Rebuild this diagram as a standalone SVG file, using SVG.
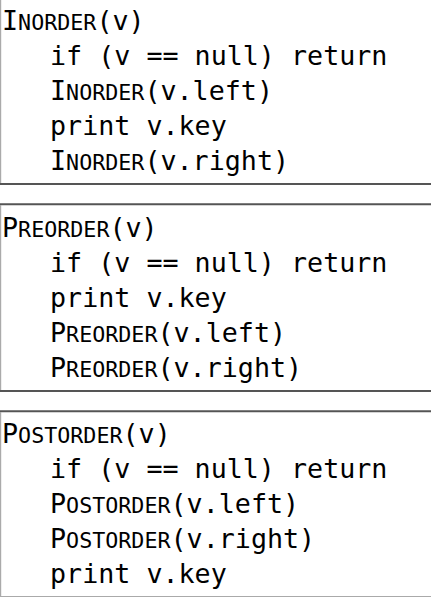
<svg xmlns="http://www.w3.org/2000/svg" width="431" height="597" viewBox="0 0 431 597">
<style>
.code{font-family:"DejaVu Sans Mono","Liberation Mono",monospace;font-size:26.7px;fill:#000}
.sc{font-size:21.7px}
.hl{stroke:#555;stroke-width:2;fill:none}
.vl{stroke:#aaa;stroke-width:1.2;fill:none}
</style>
<rect width="431" height="597" fill="#fff"/>
<g id="inorder">
<line class="vl" x1="0.6" y1="0" x2="0.6" y2="183"/>
<line class="hl" x1="0" y1="184" x2="431" y2="184"/>
<text class="code" x="2" y="30">I<tspan class="sc">NORDER</tspan>(v)</text>
<text class="code" x="50" y="65">if (v == null) return</text>
<text class="code" x="50" y="100">I<tspan class="sc">NORDER</tspan>(v.left)</text>
<text class="code" x="50" y="135">print v.key</text>
<text class="code" x="50" y="170">I<tspan class="sc">NORDER</tspan>(v.right)</text>
</g>
<g id="preorder">
<line class="hl" x1="0" y1="204.2" x2="431" y2="204.2"/>
<line class="vl" x1="0.6" y1="205" x2="0.6" y2="390"/>
<line class="hl" x1="0" y1="391" x2="431" y2="391"/>
<text class="code" x="2" y="237">P<tspan class="sc">REORDER</tspan>(v)</text>
<text class="code" x="50" y="272">if (v == null) return</text>
<text class="code" x="50" y="307">print v.key</text>
<text class="code" x="50" y="342">P<tspan class="sc">REORDER</tspan>(v.left)</text>
<text class="code" x="50" y="377">P<tspan class="sc">REORDER</tspan>(v.right)</text>
</g>
<g id="postorder">
<line class="hl" x1="0" y1="411.2" x2="431" y2="411.2"/>
<line class="vl" x1="0.6" y1="412" x2="0.6" y2="597"/>
<line class="vl" x1="0" y1="596.5" x2="431" y2="596.5"/>
<text class="code" x="2" y="443">P<tspan class="sc">OSTORDER</tspan>(v)</text>
<text class="code" x="50" y="478">if (v == null) return</text>
<text class="code" x="50" y="513">P<tspan class="sc">OSTORDER</tspan>(v.left)</text>
<text class="code" x="50" y="548">P<tspan class="sc">OSTORDER</tspan>(v.right)</text>
<text class="code" x="50" y="583">print v.key</text>
</g>
</svg>
